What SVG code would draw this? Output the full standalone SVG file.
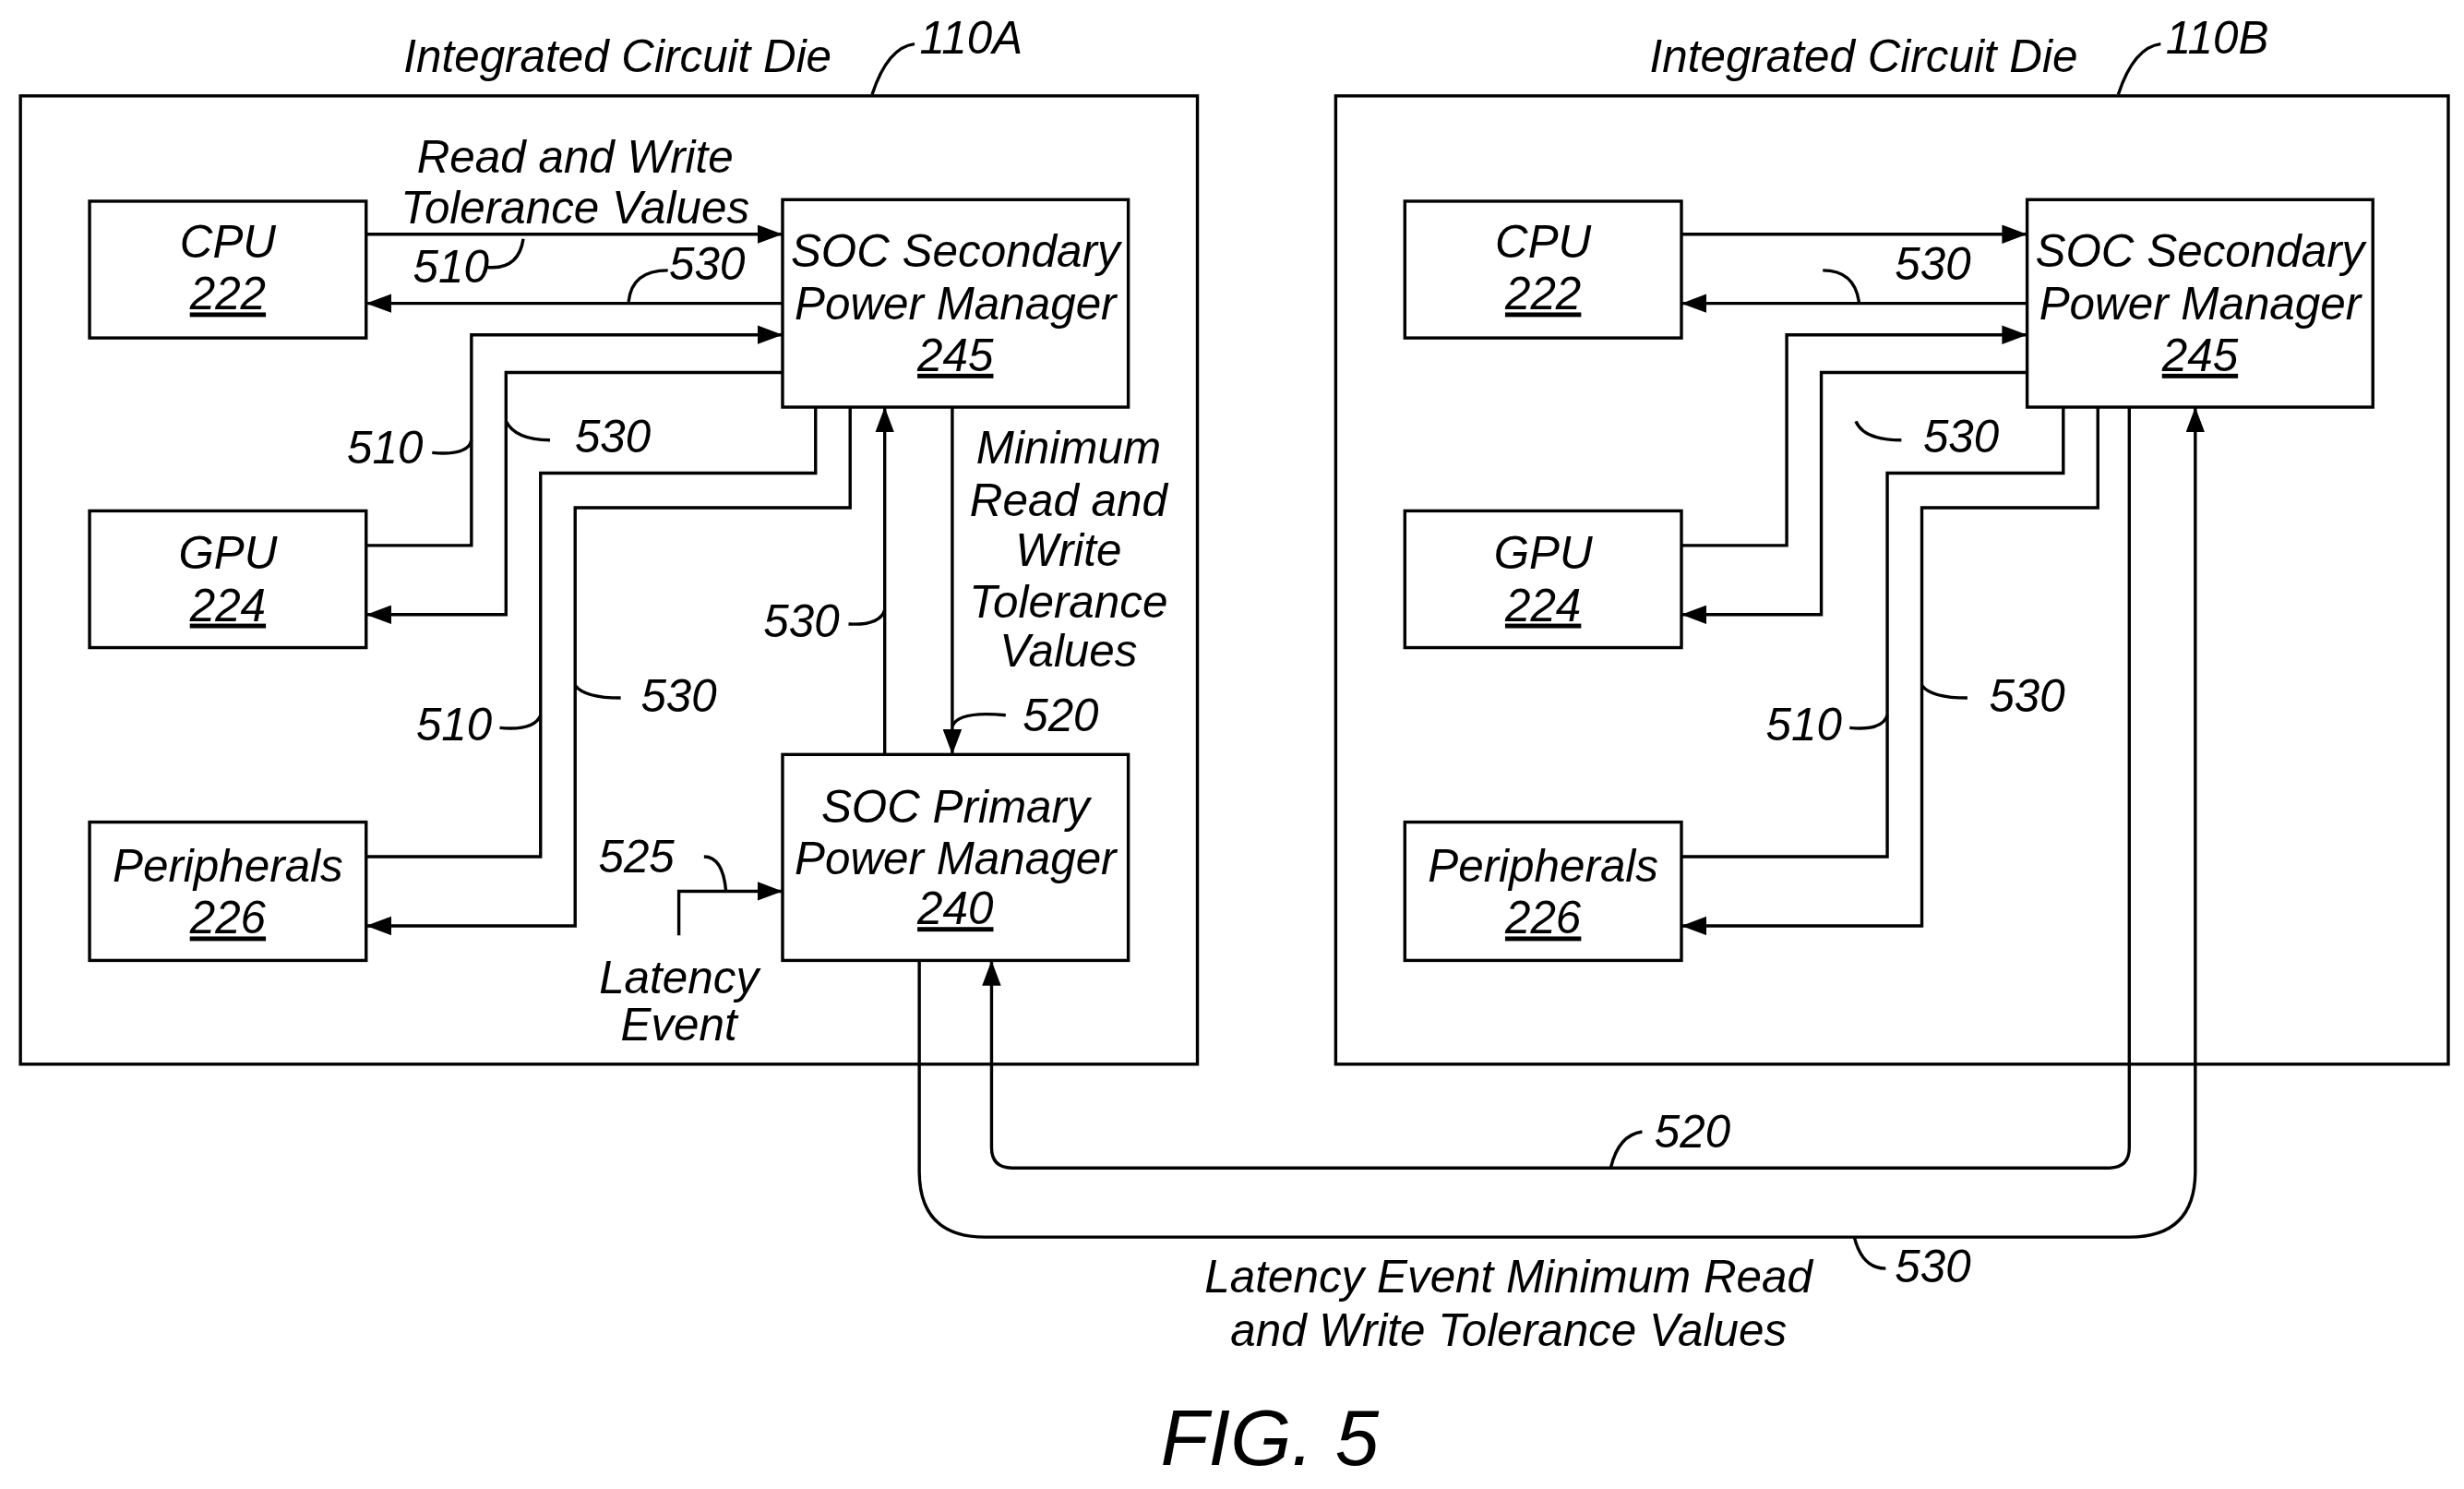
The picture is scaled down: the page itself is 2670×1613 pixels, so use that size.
<svg xmlns="http://www.w3.org/2000/svg" width="2670" height="1613" viewBox="0 0 2670 1613">
<style>
.b{fill:#fff;stroke:#000;stroke-width:2}
.l{fill:none;stroke:#000;stroke-width:2}
.t{font-family:"Liberation Sans",Arial,sans-serif;font-style:italic;font-size:29px;fill:#000;text-anchor:middle}
.u{text-decoration:underline}
</style>
<defs>
<marker id="a" markerWidth="8" markerHeight="6" refX="8" refY="3" orient="auto" markerUnits="strokeWidth"><path d="M0,0 L8,3 L0,6 Z" fill="#000"/></marker>
</defs>
<rect width="2670" height="1613" fill="#fff"/>
<g transform="scale(1.7028)">
<g id="dieA"><rect class="b" x="13" y="61" width="749" height="616"/><text class="t" x="393" y="46">Integrated Circuit Die</text><text class="t" x="618" y="34">110A</text><path class="l" d="M555,60 Q565,30 582,28"/></g>
<g id="dieB"><rect class="b" x="850" y="61" width="708" height="616"/><text class="t" x="1186" y="46">Integrated Circuit Die</text><text class="t" x="1411" y="34">110B</text><path class="l" d="M1348,60 Q1358,30 1375,28"/></g>
<g id="cpuA"><rect class="b" x="57" y="128" width="176" height="87"/><text class="t" x="145" y="164">CPU</text><text class="t u" x="145" y="197">222</text></g>
<g id="gpuA"><rect class="b" x="57" y="325" width="176" height="87"/><text class="t" x="145" y="362">GPU</text><text class="t u" x="145" y="395">224</text></g>
<g id="perA"><rect class="b" x="57" y="523" width="176" height="88"/><text class="t" x="145" y="561">Peripherals</text><text class="t u" x="145" y="594">226</text></g>
<g id="secA"><rect class="b" x="498" y="127" width="220" height="132"/><text class="t" x="608" y="170">SOC Secondary</text><text class="t" x="608" y="203">Power Manager</text><text class="t u" x="608" y="236">245</text></g>
<g id="priA"><rect class="b" x="498" y="480" width="220" height="131"/><text class="t" x="608" y="523">SOC Primary</text><text class="t" x="608" y="556">Power Manager</text><text class="t u" x="608" y="588">240</text></g>
<g id="cpuB"><rect class="b" x="894" y="128" width="176" height="87"/><text class="t" x="982" y="164">CPU</text><text class="t u" x="982" y="197">222</text></g>
<g id="gpuB"><rect class="b" x="894" y="325" width="176" height="87"/><text class="t" x="982" y="362">GPU</text><text class="t u" x="982" y="395">224</text></g>
<g id="perB"><rect class="b" x="894" y="523" width="176" height="88"/><text class="t" x="982" y="561">Peripherals</text><text class="t u" x="982" y="594">226</text></g>
<g id="secB"><rect class="b" x="1290" y="127" width="220" height="132"/><text class="t" x="1400" y="170">SOC Secondary</text><text class="t" x="1400" y="203">Power Manager</text><text class="t u" x="1400" y="236">245</text></g>
<g id="connectors">
<path class="l" marker-end="url(#a)" d="M233,149 H498"/>
<path class="l" marker-end="url(#a)" d="M498,193 H233"/>
<path class="l" marker-end="url(#a)" d="M233,347 H300 V213 H498"/>
<path class="l" marker-end="url(#a)" d="M498,237 H322 V391 H233"/>
<path class="l" d="M233,545 H344 V301 H519 V259"/>
<path class="l" marker-end="url(#a)" d="M541,259 V323 H366 V589 H233"/>
<path class="l" marker-end="url(#a)" d="M563,480 V259"/>
<path class="l" marker-end="url(#a)" d="M606,259 V480"/>
<path class="l" marker-end="url(#a)" d="M432,595 V567 H498"/>
<path class="l" marker-end="url(#a)" d="M1070,149 H1290"/>
<path class="l" marker-end="url(#a)" d="M1290,193 H1070"/>
<path class="l" marker-end="url(#a)" d="M1070,347 H1137 V213 H1290"/>
<path class="l" marker-end="url(#a)" d="M1290,237 H1159 V391 H1070"/>
<path class="l" d="M1070,545 H1201 V301 H1313 V259"/>
<path class="l" marker-end="url(#a)" d="M1335,259 V323 H1223 V589 H1070"/>
<path class="l" marker-end="url(#a)" d="M585,611 V745 Q585,787 627,787 H1355 Q1397,787 1397,745 V259"/>
<path class="l" marker-end="url(#a)" d="M1355,259 V730 Q1355,743 1342,743 H644 Q631,743 631,730 V611"/>
<path class="l" d="M310,170 Q330,172 333,152"/>
<path class="l" d="M400,192 Q402,172 425,172"/>
<path class="l" d="M275,288 Q298,290 300,280"/>
<path class="l" d="M322,268 Q328,280 350,280"/>
<path class="l" d="M540,397 Q560,398 563,388"/>
<path class="l" d="M606,462 Q610,452 640,455"/>
<path class="l" d="M318,463 Q340,465 344,455"/>
<path class="l" d="M366,436 Q372,444 395,444"/>
<path class="l" d="M448,545 Q460,545 462,567"/>
<path class="l" d="M1160,172 Q1180,172 1183,192"/>
<path class="l" d="M1181,268 Q1186,280 1210,280"/>
<path class="l" d="M1177,463 Q1198,465 1201,455"/>
<path class="l" d="M1223,436 Q1229,444 1252,444"/>
<path class="l" d="M1025,743 Q1030,722 1045,720"/>
<path class="l" d="M1180,787 Q1185,807 1200,807"/>
</g>
<g id="labels">
<text class="t" x="366" y="110">Read and Write</text><text class="t" x="366" y="142">Tolerance Values</text>
<text class="t" x="287" y="180">510</text><text class="t" x="450" y="178">530</text>
<text class="t" x="245" y="295">510</text><text class="t" x="390" y="288">530</text>
<text class="t" x="510" y="405">530</text><text class="t" x="289" y="471">510</text><text class="t" x="432" y="453">530</text>
<text class="t" x="680" y="295">Minimum</text><text class="t" x="680" y="328">Read and</text><text class="t" x="680" y="360">Write</text><text class="t" x="680" y="393">Tolerance</text><text class="t" x="680" y="424">Values</text>
<text class="t" x="675" y="465">520</text><text class="t" x="405" y="555">525</text>
<text class="t" x="432" y="632">Latency</text><text class="t" x="432" y="662">Event</text>
<text class="t" x="1230" y="178">530</text><text class="t" x="1248" y="288">530</text><text class="t" x="1148" y="471">510</text><text class="t" x="1290" y="453">530</text>
<text class="t" x="1077" y="730">520</text><text class="t" x="1230" y="816">530</text>
<text class="t" x="960" y="822">Latency Event Minimum Read</text><text class="t" x="960" y="856">and Write Tolerance Values</text>
<text class="t" x="808" y="932" style="font-size:50px">FIG. 5</text>
</g>
</g>
</svg>
